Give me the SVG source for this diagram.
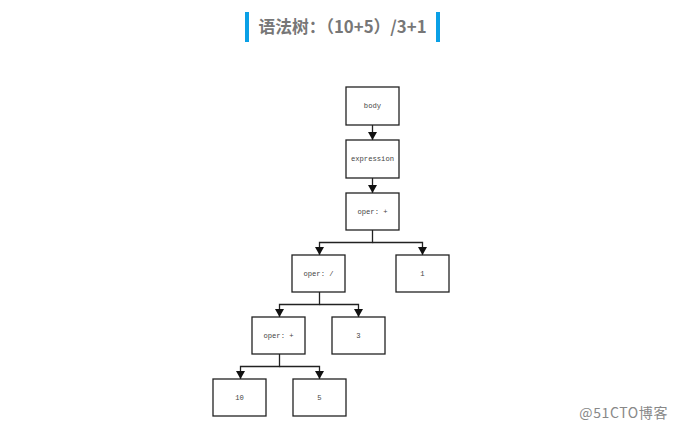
<svg xmlns="http://www.w3.org/2000/svg" width="681" height="430" viewBox="0 0 681 430">
<style>
.box{fill:#fff;stroke:#222;stroke-width:1.3}
.lbl{font-family:"Liberation Mono",monospace;font-size:7.2px;fill:#444;text-anchor:middle;dominant-baseline:central}
.edge{fill:none;stroke:#222;stroke-width:1.3}
.title{font-family:"Noto Sans CJK SC",sans-serif;font-weight:bold;font-size:16.8px;fill:#777}
.wm{font-family:"Noto Sans CJK SC",sans-serif;font-size:14px;letter-spacing:0.6px;fill:#888}
</style>
<defs>
<marker id="ah" viewBox="0 0 8 9" refX="8" refY="4.5" markerWidth="8" markerHeight="9" markerUnits="userSpaceOnUse" orient="auto">
<path d="M0,0 L8,4.5 L0,9 Z" fill="#111"/>
</marker>
</defs>
<rect width="681" height="430" fill="#fff"/>
<g id="title">
<rect x="245" y="12" width="4" height="30" fill="#0aa0e6"/>
<rect x="436" y="12" width="4" height="30" fill="#0aa0e6"/>
<text class="title" x="342.5" y="33" text-anchor="middle">语法树：（10+5）/3+1</text>
</g>
<g id="connectors">
<path class="edge" d="M372.5,125 V140" marker-end="url(#ah)"/>
<path class="edge" d="M372.5,178 V193" marker-end="url(#ah)"/>
<path class="edge" d="M372.5,230 V242.5 H319.5 V255" marker-end="url(#ah)"/>
<path class="edge" d="M372.5,242.5 H422.5 V255" marker-end="url(#ah)"/>
<path class="edge" d="M319.5,292 V304.5 H279.5 V317" marker-end="url(#ah)"/>
<path class="edge" d="M319.5,304.5 H358.5 V317" marker-end="url(#ah)"/>
<path class="edge" d="M279.5,354 V366.5 H240.5 V379" marker-end="url(#ah)"/>
<path class="edge" d="M279.5,366.5 H319.5 V379" marker-end="url(#ah)"/>
</g>
<g id="n-body"><rect class="box" x="346" y="87" width="53" height="38"/><text class="lbl" x="372.5" y="106">body</text></g>
<g id="n-expression"><rect class="box" x="346" y="140" width="53" height="38"/><text class="lbl" x="372.5" y="159">expression</text></g>
<g id="n-plus1"><rect class="box" x="346" y="193" width="53" height="37"/><text class="lbl" x="372.5" y="211.5">oper: +</text></g>
<g id="n-div"><rect class="box" x="292" y="255" width="53" height="37"/><text class="lbl" x="318.5" y="273.5">oper: /</text></g>
<g id="n-1"><rect class="box" x="396" y="255" width="53" height="37"/><text class="lbl" x="422.5" y="273.5">1</text></g>
<g id="n-plus2"><rect class="box" x="252" y="317" width="53" height="37"/><text class="lbl" x="278.5" y="335.5">oper: +</text></g>
<g id="n-3"><rect class="box" x="332" y="317" width="53" height="37"/><text class="lbl" x="358.5" y="335.5">3</text></g>
<g id="n-10"><rect class="box" x="213" y="379" width="53" height="37"/><text class="lbl" x="239.5" y="397.5">10</text></g>
<g id="n-5"><rect class="box" x="293" y="379" width="53" height="37"/><text class="lbl" x="319.5" y="397.5">5</text></g>
<text class="wm" x="668" y="418" text-anchor="end">@51CTO博客</text>
</svg>
